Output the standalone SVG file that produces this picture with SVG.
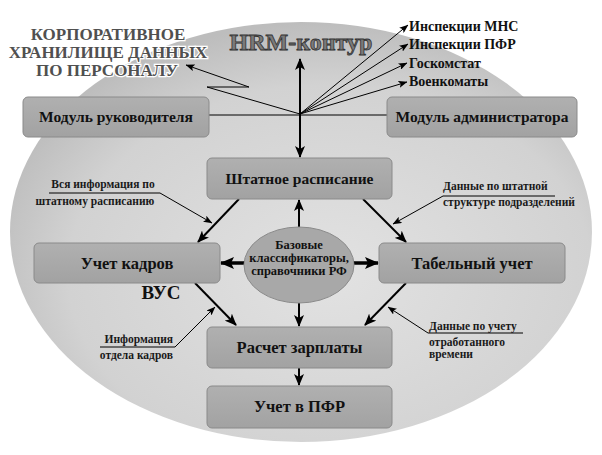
<svg xmlns="http://www.w3.org/2000/svg" width="602" height="455" viewBox="0 0 602 455" font-family="Liberation Serif, serif">
<defs>
<radialGradient id="bg" cx="0.55" cy="0.6" r="0.6">
<stop offset="0" stop-color="#e2e2e2"/>
<stop offset="0.75" stop-color="#d2d2d2"/>
<stop offset="1" stop-color="#bdbdbd"/>
</radialGradient>
<linearGradient id="box" x1="0" y1="0" x2="0" y2="1">
<stop offset="0" stop-color="#b0b0b0"/>
<stop offset="1" stop-color="#a2a2a2"/>
</linearGradient>
<marker id="a" markerUnits="userSpaceOnUse" markerWidth="12" markerHeight="10" refX="11" refY="5" orient="auto">
<path d="M0,0 L12,5 L0,10 L3,5 z" fill="#000"/>
</marker>
<marker id="t" markerUnits="userSpaceOnUse" markerWidth="14" markerHeight="12" refX="13" refY="6" orient="auto">
<path d="M0,0 L14,6 L0,12 L3,6 z" fill="#000"/>
</marker>
<marker id="s" markerUnits="userSpaceOnUse" markerWidth="9" markerHeight="7" refX="8.5" refY="3.5" orient="auto">
<path d="M0,0 L9,3.5 L0,7 L2,3.5 z" fill="#000"/>
</marker>
</defs>
<style>
text{font-family:'Liberation Serif',serif;font-weight:bold}
.bx{fill:url(#box);stroke:#8a8a8a;stroke-width:1}
.bt{font-size:15.5px;fill:#111;text-anchor:middle}
.b16{font-size:16.5px;fill:#111;text-anchor:middle}
.ce{font-size:12.5px;fill:#111;text-anchor:middle}
.lb{font-size:11.5px;fill:#1a1a1a}
.rt{font-size:14px;fill:#111}
.ct{font-size:17px;fill:#505050;text-anchor:middle;stroke:#fff;stroke-width:2.5;paint-order:stroke}
.m{stroke:#000;stroke-width:2;fill:none}
.th{stroke:#000;stroke-width:1;fill:none}
.tk{stroke:#000;stroke-width:3.5;fill:none}
</style>
<rect width="602" height="455" fill="#fff"/>
<ellipse cx="301" cy="232" rx="291" ry="210" fill="url(#bg)"/>

<g id="title">
<text x="301" y="50" font-size="24" text-anchor="middle" fill="#7a7a7a" stroke="#333" stroke-width="0.8">HRM-контур</text>
</g>
<g id="storage">
<text class="ct" x="108" y="40">КОРПОРАТИВНОЕ</text>
<text class="ct" x="108" y="58">ХРАНИЛИЩЕ ДАННЫХ</text>
<text class="ct" x="107" y="76">ПО ПЕРСОНАЛУ</text>
</g>
<g id="external">
<text class="rt" x="409" y="31">Инспекции МНС</text>
<text class="rt" x="409" y="49">Инспекции ПФР</text>
<text class="rt" x="409" y="68">Госкомстат</text>
<text class="rt" x="409" y="86">Военкоматы</text>
</g>

<g id="connectors">
<line class="th" x1="209" y1="115" x2="387" y2="115"/>
<line class="m" x1="300" y1="114" x2="300" y2="59" marker-end="url(#a)"/>
<line class="m" x1="300" y1="114" x2="300" y2="157" marker-end="url(#a)"/>
<polyline class="th" points="300,114 207,87 249,87 186,65" marker-end="url(#s)"/>
<line class="th" x1="300" y1="114" x2="408" y2="25" marker-end="url(#s)"/>
<line class="th" x1="300" y1="114" x2="408" y2="44" marker-end="url(#s)"/>
<line class="th" x1="300" y1="114" x2="407" y2="63" marker-end="url(#s)"/>
<line class="th" x1="300" y1="114" x2="407" y2="82" marker-end="url(#s)"/>
<line class="m" x1="239" y1="199" x2="198" y2="242" marker-end="url(#a)"/>
<line class="m" x1="363" y1="199" x2="406" y2="242" marker-end="url(#a)"/>
<line class="m" x1="299" y1="227" x2="299" y2="200" marker-end="url(#a)"/>
<line class="tk" x1="244" y1="263" x2="221" y2="263" marker-end="url(#t)"/>
<line class="tk" x1="354" y1="263" x2="378" y2="263" marker-end="url(#t)"/>
<line class="m" x1="299" y1="303" x2="299" y2="326" marker-end="url(#a)"/>
<line class="m" x1="195" y1="283" x2="236" y2="325" marker-end="url(#a)"/>
<line class="m" x1="406" y1="283" x2="365" y2="325" marker-end="url(#a)"/>
<line class="m" x1="299" y1="368" x2="299" y2="385" marker-end="url(#a)"/>
<polyline class="th" points="49,193 160,193 212,223" marker-end="url(#s)"/>
<polyline class="th" points="555,196 443,196 393,224" marker-end="url(#s)"/>
<polyline class="th" points="100,347 175,347 215,307" marker-end="url(#s)"/>
<polyline class="th" points="523,333 428,333 388,307" marker-end="url(#s)"/>
</g>

<g id="mod-ruk">
<rect class="bx" x="23" y="97" width="186" height="40" rx="5"/>
<text class="bt" x="116" y="122">Модуль руководителя</text>
</g>
<g id="mod-adm">
<rect class="bx" x="387" y="97" width="190" height="40" rx="5"/>
<text class="bt" x="482" y="122">Модуль администратора</text>
</g>
<g id="shtat">
<rect class="bx" x="207" y="158" width="185" height="41" rx="5"/>
<text class="bt" x="299.5" y="184">Штатное расписание</text>
</g>
<g id="kadry">
<rect class="bx" x="34" y="243" width="186" height="40" rx="5"/>
<text class="b16" x="127" y="269">Учет кадров</text>
</g>
<g id="tabel">
<rect class="bx" x="379" y="243" width="186" height="40" rx="5"/>
<text class="b16" x="472" y="269">Табельный учет</text>
</g>
<g id="zarplata">
<rect class="bx" x="207" y="327" width="185" height="41" rx="5"/>
<text class="b16" x="299.5" y="353">Расчет зарплаты</text>
</g>
<g id="pfr">
<rect class="bx" x="207" y="386" width="185" height="42" rx="5"/>
<text class="b16" x="299.5" y="412">Учет в ПФР</text>
</g>
<g id="base">
<ellipse cx="299" cy="265" rx="55" ry="38" fill="#a8a8a8" stroke="#8a8a8a"/>
<text class="ce" x="299" y="249">Базовые</text>
<text class="ce" x="299" y="262">классификаторы,</text>
<text class="ce" x="299" y="275">справочники РФ</text>
</g>
<g id="vus">
<text x="161" y="299" font-size="19" text-anchor="middle" fill="#111">ВУС</text>
</g>
<g id="lbl-shtat">
<text class="lb" x="103" y="188" text-anchor="middle">Вся информация по</text>
<text class="lb" x="95" y="205" text-anchor="middle">штатному расписанию</text>
</g>
<g id="lbl-struct">
<text class="lb" x="443" y="190">Данные по штатной</text>
<text class="lb" x="443" y="206">структуре подразделений</text>
</g>
<g id="lbl-otdel">
<text class="lb" x="173" y="343" text-anchor="end">Информация</text>
<text class="lb" x="173" y="359" text-anchor="end">отдела кадров</text>
</g>
<g id="lbl-time">
<text class="lb" x="429" y="330">Данные по учету</text>
<text class="lb" x="429" y="346">отработанного</text>
<text class="lb" x="429" y="358">времени</text>
</g>
</svg>
